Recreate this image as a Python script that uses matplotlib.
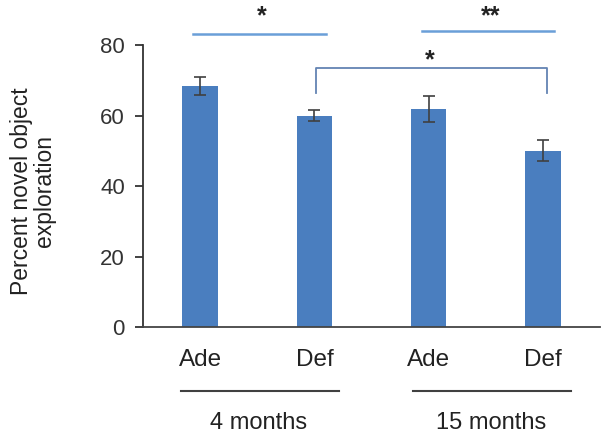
import matplotlib
matplotlib.use("Agg")
import matplotlib.pyplot as plt
import numpy as np

plt.rcParams['font.family'] = ['Liberation Sans', 'DejaVu Sans']

# data
groups = ['Ade', 'Def', 'Ade', 'Def']
ages = ['4 months', '15 months']
means = [68.4, 60.0, 61.8, 50.0]
sems = [2.5, 1.5, 3.7, 3.0]

bar_col = '#4a7ebf'
sig_col = '#6a9fd8'
brk_col = '#6384b3'
dark = '#404040'

fig = plt.figure(figsize=(6.12, 4.37), dpi=100)
ax = fig.add_axes([0.2337, 0.2517, 0.7467, 0.6453])

x = np.arange(len(means))
ax.bar(x, means, width=0.31, color=bar_col, zorder=2)
ax.errorbar(x, means, yerr=sems, fmt='none', ecolor=dark, elinewidth=1.2,
            capsize=4, capthick=1.2, zorder=3)

ax.set_xlim(-0.5, 3.5)
ax.set_ylim(0, 80)
ax.set_yticks([0, 20, 40, 60, 80])
ax.tick_params(axis='y', labelsize=16, length=6, width=1.3, pad=7, colors='#333333')
ax.set_xticks(x)
ax.set_xticklabels(groups, fontsize=17.5, color='#222222')
ax.tick_params(axis='x', length=0, pad=16)
for s in ['top', 'right']:
    ax.spines[s].set_visible(False)
ax.spines['left'].set_linewidth(1.3)
ax.spines['left'].set_color('#333333')
ax.spines['bottom'].set_linewidth(1.3)
ax.spines['bottom'].set_color('#444444')

# significance lines
ax.plot([-0.06, 1.1], [83.1, 83.1], color=sig_col, lw=1.8, clip_on=False)
ax.plot([1.94, 3.1], [84.0, 84.0], color=sig_col, lw=1.8, clip_on=False)
ax.text(0.54, 88.0, '*', ha='center', va='center', fontsize=18, fontweight='bold', color='#222222')
ax.text(2.54, 88.0, '**', ha='center', va='center', fontsize=18, fontweight='bold', color='#222222')
ax.plot([1.01, 1.01, 3.04, 3.04], [66.4, 73.5, 73.5, 66.4], color=brk_col, lw=1.3,
        clip_on=False)
ax.text(2.01, 75.8, '*', ha='center', va='center', fontsize=18, fontweight='bold', color='#222222')

# group lines and labels under the axis
tr = ax.get_xaxis_transform()
ax.plot([-0.167, 1.216], [-0.227, -0.227], color=dark, lw=1.5, transform=tr, clip_on=False)
ax.plot([1.863, 3.246], [-0.227, -0.227], color=dark, lw=1.5, transform=tr, clip_on=False)
ax.text(0.51, -0.34, ages[0], transform=tr, ha='center', va='center', fontsize=17, color='#222222')
ax.text(2.55, -0.34, ages[1], transform=tr, ha='center', va='center', fontsize=17, color='#222222')

fig.text(0.054, 1 - 191 / 437, 'Percent novel object\nexploration', rotation=90,
         ha='center', va='center', multialignment='center', fontsize=16.5,
         color='#222222', linespacing=1.0)

fig.savefig('out.png', dpi=100)
